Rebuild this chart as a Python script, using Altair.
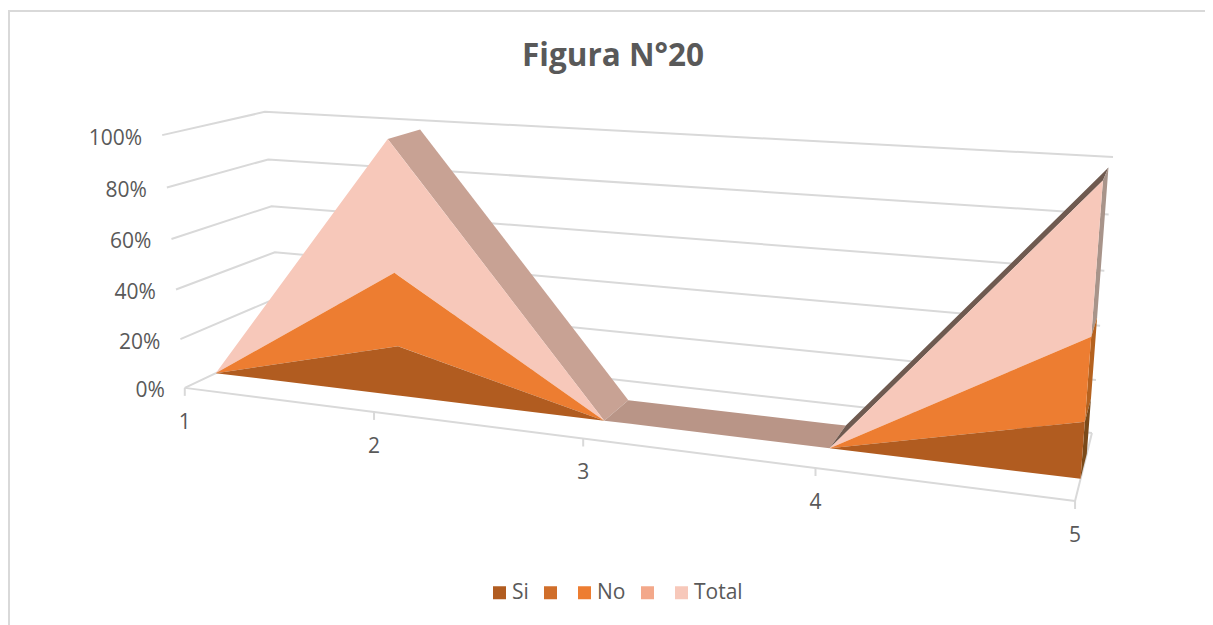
import altair as alt
import numpy as np
import pandas as pd

# ---- chart values (percent of the 100% stack) ----
CATEGORIES = [1, 2, 3, 4, 5]
SI = [0, 20, 0, 0, 20]
NO = [0, 29, 0, 0, 29]
TOTAL = [0, 51, 0, 0, 51]
TICKS = [0, 20, 40, 60, 80, 100]
LEGEND = ["Si", "b1", "No", "b2", "Total"]
TITLE = "Figura N°20"

# ---- styling ----
W, H = 1197, 617
FONT = "Open Sans"
TEXT = "#595959"
GRID = "#d9d9d9"
COLORS = {"Si": "#b15c20", "b1": "#d06e2a", "No": "#ed7d31", "b2": "#f3a88a", "Total": "#f7c8ba",
          "slope": "#c8a294", "flat": "#b99587", "rise": "#6f5a50",
          "sideTotal": "#a8948a", "sideNo": "#b5621f", "sideSi": "#7a4a1a"}

# ---- camera: a 3x4 perspective matrix calibrated on the corners of the chart box ----
# world = (category 0..1, depth 0..1, height 0..1)  ->  page pixel
CORNERS = [((0, 0, 0), (185, 388)), ((1, 0, 0), (1075, 501)), ((1, 1, 0), (1092, 433)),
           ((0, 1, 0), (281, 342)), ((0, 0, 1), (162, 135)), ((0, 1, 1), (265, 112)),
           ((1, 1, 1), (1113, 157))]
A, b = [], []
for (u, d, v), (px, py) in CORNERS:
    A.append([u, d, v, 1, 0, 0, 0, 0, -px * u, -px * d, -px * v]); b.append(px)
    A.append([0, 0, 0, 0, u, d, v, 1, -py * u, -py * d, -py * v]); b.append(py)
P = np.append(np.linalg.lstsq(np.array(A, float), np.array(b, float), rcond=None)[0], 1).reshape(3, 4)


def project(cat, pct, depth):
    h = P @ np.array([(cat - 1) / 4, depth, pct / 100, 1.0])
    return h[0] / h[2], h[1] / h[2]


def slices(poly):
    """x-monotone polygon -> x, y, y2 rows for an area mark."""
    rows = []
    n = len(poly)
    for x in sorted({round(p[0], 3) for p in poly}):
        ys = []
        for i in range(n):
            (x0, y0), (x1, y1) = poly[i], poly[(i + 1) % n]
            lo, hi = min(x0, x1), max(x0, x1)
            if lo - 1e-3 <= x <= hi + 1e-3:
                if abs(x1 - x0) < 1e-6:
                    ys += [y0, y1]
                else:
                    ys.append(y0 + (y1 - y0) * (x - x0) / (x1 - x0))
        rows.append((x, min(ys), max(ys)))
    return rows


D0, D1 = 0.30, 0.67
cum_si = list(SI)
cum_no = [a + c for a, c in zip(SI, NO)]
cum_to = [a + c for a, c in zip(cum_no, TOTAL)]


def face(low, high):
    top = [project(c, v, D0) for c, v in zip(CATEGORIES, high)]
    bot = [project(c, v, D0) for c, v in zip(CATEGORIES, low)]
    return top + bot[::-1]


def band(i, j):
    return [project(CATEGORIES[i], cum_to[i], D0), project(CATEGORIES[i], cum_to[i], D1),
            project(CATEGORIES[j], cum_to[j], D1), project(CATEGORIES[j], cum_to[j], D0)]


def side(low, high):
    return [project(5, low, D0), project(5, high, D0), project(5, high, D1), project(5, low, D1)]


zero = [0] * 5
polys = [("slope", band(1, 2)), ("flat", band(2, 3)), ("rise", band(3, 4)),
         ("sideTotal", side(cum_no[4], cum_to[4])), ("sideNo", side(cum_si[4], cum_no[4])), ("sideSi", side(0, cum_si[4])),
         ("Total", face(cum_no, cum_to)), ("No", face(cum_si, cum_no)), ("Si", face(zero, cum_si))]
rows = []
for k, (name, poly) in enumerate(polys):
    for x, y, y2 in slices(poly):
        rows.append({"face": name, "rank": k, "x": x, "y": y, "y2": y2})
areas = pd.DataFrame(rows)

# ---- box lines ----
lines = []
def add(idn, pts):
    for o, (x, y) in enumerate(pts):
        lines.append({"id": idn, "o": o, "x": x, "y": y})

for t in TICKS:
    add(f"g{t}", [project(1, t, 0), project(1, t, 1), project(5, t, 1)])
add("floorR", [project(5, 0, 1), project(5, 0, 0)])
add("floorF", [project(1, 0, 0), project(5, 0, 0)])
lines = pd.DataFrame(lines)

ticks = []
for c in CATEGORIES:
    x, y = project(c, 0, 0)
    ticks.append({"x": x, "y": y, "y2": y + 8, "label": str(c)})
ticks = pd.DataFrame(ticks)

ylabels = pd.DataFrame([{"x": project(1, t, 0)[0], "y": project(1, t, 0)[1], "label": f"{t}%"} for t in TICKS])
frame = pd.DataFrame({"id": ["f", "f", "f"], "o": [0, 1, 2], "x": [9, 9, 8 + W], "y": [8 + H, 11, 11]})

X = alt.X("x:Q", axis=None, scale=alt.Scale(domain=[8, 8 + W], range=[0, W]))
Y = alt.Y("y:Q", axis=None, scale=alt.Scale(domain=[8, 8 + H], range=[0, H]))

frame_l = alt.Chart(frame).mark_line(color="#d9d9d9", strokeWidth=2).encode(X, Y, detail="id:N", order="o:Q")
grid_l = alt.Chart(lines).mark_line(color=GRID, strokeWidth=2).encode(X, Y, detail="id:N", order="o:Q")
tick_l = alt.Chart(ticks).mark_rule(color=GRID, strokeWidth=2).encode(X, Y, y2="y2:Q")
area_l = alt.Chart(areas).mark_area(interpolate="linear", opacity=1, strokeWidth=0).encode(
    X, Y, y2="y2:Q",
    color=alt.Color("face:N", sort=None,
                    scale=alt.Scale(domain=list(COLORS), range=list(COLORS.values())),
                    legend=alt.Legend(orient="none", legendX=481, legendY=574, direction="horizontal", columns=5,
                                      title=None, values=LEGEND, symbolType="square", symbolSize=169,
                                      symbolStrokeWidth=0, labelFont=FONT, labelFontSize=21, labelColor=TEXT,
                                      labelOffset=2, columnPadding=11,
                                      labelExpr="datum.label == 'b1' || datum.label == 'b2' ? '' : datum.label")),
    order="rank:Q")
ylab = alt.Chart(ylabels).mark_text(align="right", baseline="middle", dx=-20, dy=3.5, font=FONT, fontSize=21, color=TEXT).encode(X, Y, text="label:N")
xlab = alt.Chart(ticks).mark_text(align="center", baseline="middle", dy=35, font=FONT, fontSize=21, color=TEXT).encode(X, Y, text="label:N")

chart = alt.layer(frame_l, grid_l, tick_l, area_l, ylab, xlab).properties(
    width=W, height=H, padding=0,
    autosize=alt.AutoSizeParams(type="none"),
    title=alt.TitleParams(TITLE, anchor="start", dx=517, dy=69, font=FONT, fontSize=31.5, fontWeight="bold", color=TEXT),
).configure_view(strokeWidth=0)

chart.save("out.html", embed_options={"renderer": "svg", "actions": False})
